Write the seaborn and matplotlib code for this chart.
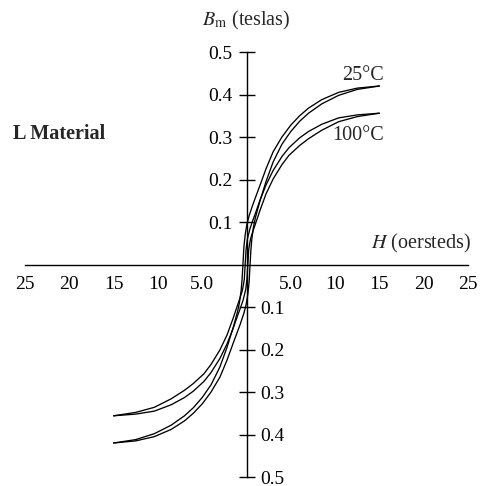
import matplotlib
matplotlib.use("Agg")
import matplotlib.pyplot as plt
import seaborn as sns

# 25 C loop: descending branch (from +15 Oe) and ascending branch (from -15 Oe)
h_25_down = [15, 12.5, 10.4, 8.5, 7, 6, 5, 4, 3, 2.2, 1.5, 1.0, 0.7, 0.3, 0.05, -0.15, -0.3, -0.4,
             -0.5, -0.6, -0.8, -1.0, -1.5, -2.2, -3, -4, -5, -6, -7, -8.5, -10.4, -12.5, -15]
b_25_down = [0.420, 0.415, 0.405, 0.388, 0.368, 0.350, 0.328, 0.300, 0.265, 0.225, 0.185, 0.157, 0.140,
             0.115, 0.095, 0.070, 0.040, 0.0,
             -0.035, -0.060, -0.090, -0.110, -0.148, -0.195, -0.241, -0.283, -0.313, -0.337, -0.356,
             -0.378, -0.398, -0.412, -0.420]
h_25_up = [-15, -12.5, -10.4, -8.5, -7, -6, -5, -4, -3, -2.2, -1.5, -1.0, -0.7, -0.3, -0.05, 0.15, 0.3, 0.4,
           0.5, 0.6, 0.8, 1.0, 1.5, 2.2, 3, 4, 5, 6, 7, 8.5, 10.4, 12.5, 15]
b_25_up = [-0.420, -0.415, -0.405, -0.388, -0.368, -0.350, -0.328, -0.300, -0.265, -0.225, -0.185, -0.157,
           -0.140, -0.115, -0.095, -0.070, -0.040, 0.0,
           0.035, 0.060, 0.090, 0.110, 0.148, 0.195, 0.241, 0.283, 0.313, 0.337, 0.356,
           0.378, 0.398, 0.412, 0.420]

# 100 C loop
h_100_down = [15, 12.5, 10.4, 8.5, 7, 6, 4.8, 4, 3, 2.2, 1.5, 1.0, 0.7, 0.4, 0.1, -0.05, -0.15,
              -0.25, -0.45, -0.75, -1.0, -1.5, -2.2, -3, -4, -4.8, -6, -7, -8.5, -10.4, -12.5, -15]
b_100_down = [0.356, 0.352, 0.345, 0.330, 0.313, 0.298, 0.275, 0.254, 0.221, 0.187, 0.150, 0.120, 0.103,
              0.085, 0.060, 0.035, 0.0,
              -0.035, -0.060, -0.080, -0.095, -0.126, -0.166, -0.201, -0.235, -0.257, -0.280, -0.296,
              -0.316, -0.336, -0.348, -0.356]
h_100_up = [-15, -12.5, -10.4, -8.5, -7, -6, -4.8, -4, -3, -2.2, -1.5, -1.0, -0.7, -0.4, -0.1, 0.05, 0.15,
            0.25, 0.45, 0.75, 1.0, 1.5, 2.2, 3, 4, 4.8, 6, 7, 8.5, 10.4, 12.5, 15]
b_100_up = [-0.356, -0.352, -0.345, -0.330, -0.313, -0.298, -0.275, -0.254, -0.221, -0.187, -0.150, -0.120,
            -0.103, -0.085, -0.060, -0.035, 0.0,
            0.035, 0.060, 0.080, 0.095, 0.126, 0.166, 0.201, 0.235, 0.257, 0.280, 0.296,
            0.316, 0.336, 0.348, 0.356]

x_ticks = [-25, -20, -15, -10, -5, 5, 10, 15, 20, 25]
x_labels = ["25", "20", "15", "10", "5.0", "5.0", "10", "15", "20", "25"]
y_ticks_pos = [0.1, 0.2, 0.3, 0.4, 0.5]
y_ticks_neg = [-0.1, -0.2, -0.3, -0.4, -0.5]
y_labels = ["0.1", "0.2", "0.3", "0.4", "0.5"]

sns.set_style("white")
plt.rcParams["font.family"] = ["Liberation Serif", "DejaVu Serif"]
plt.rcParams["mathtext.fontset"] = "stix"
FS = 14
FS_TXT = 14.5

fig = plt.figure(figsize=(4.8, 4.86), dpi=100)
ax = fig.add_axes([25 / 480, 9 / 486, 443 / 480, 425 / 486])

branches = [(h_25_down, b_25_down), (h_25_up, b_25_up),
            (h_100_down, b_100_down), (h_100_up, b_100_up)]
for hx, by in branches:
    sns.lineplot(x=hx, y=by, sort=False, color="black", linewidth=0.95, ax=ax)

ax.set_xlim(-25, 25)
ax.set_ylim(-0.5, 0.5)

for side in ["top", "right"]:
    ax.spines[side].set_visible(False)
ax.spines["left"].set_position(("data", 0))
ax.spines["bottom"].set_position(("data", 0))
for side in ["left", "bottom"]:
    ax.spines[side].set_linewidth(1.0)
    ax.spines[side].set_color("black")

ax.set_xticks(x_ticks)
ax.set_xticklabels(x_labels)
ax.set_yticks(y_ticks_pos)
ax.set_yticklabels(y_labels)
ax.tick_params(axis="both", direction="inout", length=11, width=1.0, colors="black", labelsize=FS)
ax.tick_params(axis="x", pad=2.5)
ax.tick_params(axis="y", pad=4.5)

# negative B labels sit on the right-hand side of the vertical axis
ax2 = ax.twinx()
ax2.set_ylim(-0.5, 0.5)
for side in ["top", "left", "bottom"]:
    ax2.spines[side].set_visible(False)
ax2.spines["right"].set_position(("data", 0))
ax2.spines["right"].set_visible(False)
ax2.set_yticks(y_ticks_neg)
ax2.set_yticklabels(y_labels)
ax2.tick_params(axis="y", direction="inout", length=11, width=1.0, colors="black", labelsize=FS, pad=4.5)
ax2.grid(False)
ax.grid(False)

ax.text(0, 0.562, r"$B_\mathrm{m}$ (teslas)", ha="center", va="baseline", fontsize=FS_TXT)
ax.text(25.3, 0.038, r"$H$ (oersteds)", ha="right", va="baseline", fontsize=FS_TXT)
ax.text(15.5, 0.433, "25°C", ha="right", va="baseline", fontsize=FS_TXT)
ax.text(15.5, 0.292, "100°C", ha="right", va="baseline", fontsize=FS_TXT)
ax.text(-26.3, 0.296, "L Material", ha="left", va="baseline", fontsize=FS_TXT, fontweight="bold")

fig.savefig("out.png", dpi=100)
